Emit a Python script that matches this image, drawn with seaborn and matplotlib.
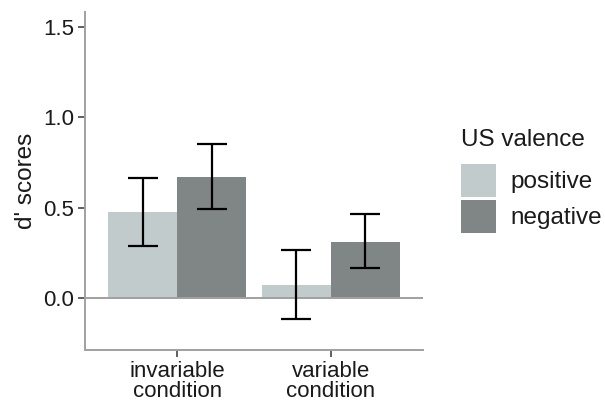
import numpy as np
import pandas as pd
import matplotlib
matplotlib.use("Agg")
import matplotlib.pyplot as plt
import seaborn as sns
from matplotlib.patches import Patch

# d' scores by condition and US valence, with error-bar limits
conditions = ["invariable\ncondition", "variable\ncondition"]
valences = ["positive", "negative"]
positive_means = [0.476, 0.072]
negative_means = [0.668, 0.312]
positive_lower = [0.288, -0.116]
positive_upper = [0.666, 0.266]
negative_lower = [0.490, 0.164]
negative_upper = [0.850, 0.467]
y_ticks = [0.0, 0.5, 1.0, 1.5]

colors = {"positive": "#c2cbcb", "negative": "#808685"}
text_color = "#1a1a1a"
axis_gray = "#a0a0a0"

sns.set_theme(style="white")
plt.rcParams["font.family"] = ["Liberation Sans", "DejaVu Sans"]

df = pd.DataFrame({
    "condition": conditions * 2,
    "valence": ["positive"] * 2 + ["negative"] * 2,
    "d": positive_means + negative_means,
    "lo": positive_lower + negative_lower,
    "hi": positive_upper + negative_upper,
})

fig = plt.figure(figsize=(6.05, 4.03), dpi=100)
ax = fig.add_axes([85 / 605, 1 - 350 / 403, (423 - 85) / 605, (350 - 12) / 403])

sns.barplot(data=df, x="condition", y="d", hue="valence", hue_order=valences,
            order=conditions, palette=colors, width=0.9, errorbar=None,
            saturation=1, linewidth=0, ax=ax, legend=False)

# error bars centred on each drawn bar (patches follow hue order, then category)
for bar, (_, row) in zip(ax.patches, df.iterrows()):
    cx = bar.get_x() + bar.get_width() / 2
    mid = (row["lo"] + row["hi"]) / 2
    ax.errorbar(cx, mid, yerr=[[mid - row["lo"]], [row["hi"] - mid]],
                fmt="none", ecolor="black", elinewidth=1.6, capsize=11,
                capthick=1.6, zorder=5)

ax.axhline(0, color=axis_gray, linewidth=1.4, zorder=3)

ax.set_xlim(-0.6, 1.6)
ax.set_ylim(-0.288, 1.583)
ax.set_yticks(y_ticks)
ax.set_yticklabels([f"{t:.1f}" for t in y_ticks])

for side in ["top", "right"]:
    ax.spines[side].set_visible(False)
for side in ["left", "bottom"]:
    ax.spines[side].set_color(axis_gray)
    ax.spines[side].set_linewidth(1.4)

ax.tick_params(axis="both", which="both", length=5, width=1.2, color="#444444",
               labelsize=16, labelcolor=text_color, left=True, bottom=True, pad=3)
ax.tick_params(axis="x", pad=3)
for lbl in ax.get_xticklabels():
    lbl.set_linespacing(0.9)
ax.set_xlabel("")
ax.set_ylabel("d' scores", fontsize=17.5, color=text_color, labelpad=4)

handles = [Patch(facecolor=colors[v], edgecolor="none", label=v) for v in valences]
leg = fig.legend(handles=handles, title="US valence", loc="upper left",
                 bbox_to_anchor=(444 / 605, 1 - 112 / 403), frameon=False,
                 fontsize=17.5, title_fontsize=17.5, handlelength=1.44,
                 handleheight=1.72, handletextpad=0.6, labelspacing=0.12,
                 alignment="left", borderpad=0.2)
# a wider gap between the legend title and its keys
leg._legend_box.sep = 9
for t in leg.get_texts():
    t.set_color(text_color)
leg.get_title().set_color(text_color)

fig.savefig("out.png", dpi=100, facecolor="white")
